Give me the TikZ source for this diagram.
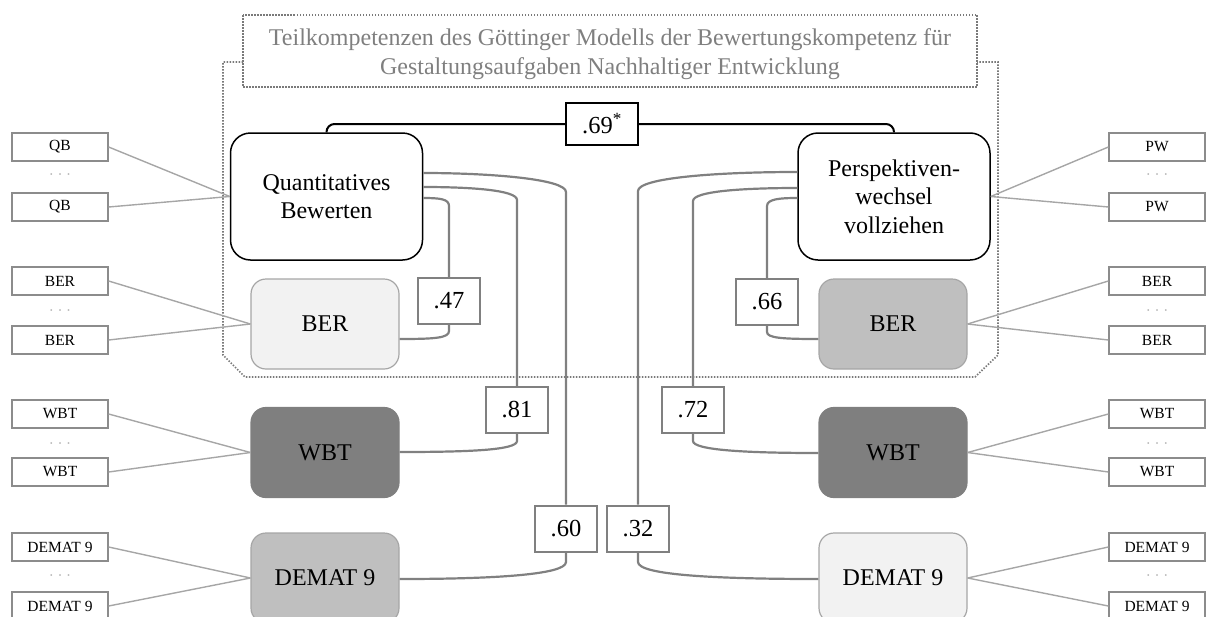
\documentclass[tikz,border=0pt]{standalone}
\usepackage{fontspec}
\setmainfont{Liberation Serif}
\definecolor{conngray}{HTML}{808080}
\definecolor{labgray}{HTML}{808080}
\definecolor{indgray}{HTML}{8C8C8C}
\definecolor{lgray}{HTML}{A6A6A6}
\definecolor{dotgray}{HTML}{B0B0B0}
\definecolor{regc}{HTML}{7A7A7A}
\definecolor{titlec}{HTML}{7F7F7F}
\definecolor{fillA}{HTML}{F2F2F2}
\definecolor{fillB}{HTML}{BFBFBF}
\definecolor{fillC}{HTML}{7F7F7F}
\definecolor{bordA}{HTML}{A6A6A6}
\begin{document}
\begin{tikzpicture}[x=1pt,y=-1pt,
  latbox/.style={draw=black, line width=1.5pt, fill=white, rounded corners=20pt,
    minimum width=192pt, minimum height=127pt, inner sep=0pt, align=center,
    font=\fontsize{24}{28.5}\selectfont},
  compbox/.style={draw=bordA, line width=1.2pt, rounded corners=15pt,
    minimum width=148pt, minimum height=90pt, inner sep=0pt,
    font=\fontsize{24}{28}\selectfont},
  indbox/.style={draw=indgray, line width=1.3pt, fill=white, minimum width=96pt,
    minimum height=28pt, inner sep=0pt, font=\fontsize{15.5}{18}\selectfont},
  labbox/.style={draw=labgray, line width=2pt, fill=white, minimum width=62pt,
    minimum height=46pt, inner sep=0pt, font=\fontsize{24.5}{28}\selectfont},
  conn/.style={draw=conngray, line width=2.2pt},
  indline/.style={draw=lgray, line width=1.4pt},
  dotrow/.style={text=dotgray, inner sep=0pt, font=\fontsize{15}{18}\selectfont},
  regionline/.style={draw=regc, line width=1.7pt, dash pattern=on 1.5pt off 1.5pt}
]
\useasboundingbox (0,0) rectangle (1206,616);

% region and title
\draw[regionline] (243,15) rectangle (977,87);
\draw[regionline] (243,62) -- (223,62) -- (223,355) -- (245,377) -- (975,377) -- (998,355) -- (998,62) -- (977,62);
\node[text=titlec, align=center, font=\fontsize{24}{28.5}\selectfont] (title) at (610,54)
  {Teilkompetenzen des Göttinger Modells der Bewertungskompetenz für\\Gestaltungsaufgaben Nachhaltiger Entwicklung};

% main boxes
\node[latbox] (QB) at (326.5,196.5) {Quantitatives\\Bewerten};
\node[latbox] (PW) at (894,196.5) {Perspektiven-\\wechsel\\vollziehen};
\node[compbox, fill=fillA] (BERL) at (325,324) {BER};
\node[compbox, fill=fillB] (BERR) at (893,324) {BER};
\node[compbox, fill=fillC, draw=fillC] (WBTL) at (325,452.5) {WBT};
\node[compbox, fill=fillC, draw=fillC] (WBTR) at (893,452.5) {WBT};
\node[compbox, fill=fillB] (DEML) at (325,578) {DEMAT 9};
\node[compbox, fill=fillA] (DEMR) at (893,578) {DEMAT 9};

% indicator boxes left
\node[indbox] (qb1) at (60,147) {QB};
\node[dotrow] (qbd) at (60,177) {· · ·};
\node[indbox] (qb2) at (60,207) {QB};
\node[indbox] (bl1) at (60,281) {BER};
\node[dotrow] (bld) at (60,313) {· · ·};
\node[indbox] (bl2) at (60,340) {BER};
\node[indbox] (wl1) at (60,414) {WBT};
\node[dotrow] (wld) at (60,446) {· · ·};
\node[indbox] (wl2) at (60,472) {WBT};
\node[indbox] (dl1) at (60,547) {DEMAT 9};
\node[dotrow] (dld) at (60,578) {· · ·};
\node[indbox] (dl2) at (60,606) {DEMAT 9};
% indicator boxes right
\node[indbox] (pw1) at (1157,147) {PW};
\node[dotrow] (pwd) at (1157,177) {· · ·};
\node[indbox] (pw2) at (1157,207) {PW};
\node[indbox] (br1) at (1157,281) {BER};
\node[dotrow] (brd) at (1157,313) {· · ·};
\node[indbox] (br2) at (1157,340) {BER};
\node[indbox] (wr1) at (1157,414) {WBT};
\node[dotrow] (wrd) at (1157,446) {· · ·};
\node[indbox] (wr2) at (1157,472) {WBT};
\node[indbox] (dr1) at (1157,547) {DEMAT 9};
\node[dotrow] (drd) at (1157,578) {· · ·};
\node[indbox] (dr2) at (1157,606) {DEMAT 9};

% indicator lines
\foreach \a in {qb1,qb2} \draw[indline] (\a.east) -- (QB.west);
\foreach \a in {bl1,bl2} \draw[indline] (\a.east) -- (BERL.west);
\foreach \a in {wl1,wl2} \draw[indline] (\a.east) -- (WBTL.west);
\foreach \a in {dl1,dl2} \draw[indline] (\a.east) -- (DEML.west);
\foreach \a in {pw1,pw2} \draw[indline] (\a.west) -- (PW.east);
\foreach \a in {br1,br2} \draw[indline] (\a.west) -- (BERR.east);
\foreach \a in {wr1,wr2} \draw[indline] (\a.west) -- (WBTR.east);
\foreach \a in {dr1,dr2} \draw[indline] (\a.west) -- (DEMR.east);

% correlation labels
\node[labbox] (l47) at (449,301) {.47};
\node[labbox] (l81) at (517,410) {.81};
\node[labbox] (l60) at (566,528.5) {.60};
\node[labbox] (l66) at (767,302) {.66};
\node[labbox] (l72) at (693,410) {.72};
\node[labbox] (l32) at (638,528.5) {.32};
\node[labbox, draw=black, minimum width=72pt, minimum height=42pt] (l69) at (602,124) {.69\textsuperscript{*}};

% top black connector
\draw[black, line width=2pt, rounded corners=8pt] (QB.north) |- (l69.west);
\draw[black, line width=2pt, rounded corners=8pt] (l69.east) -| (PW.north);

% left connectors
\draw[conn] (QB.east |- 0,173) .. controls (490,173) and (l60.north |- 0,179) .. (l60.north |- 0,192) -- (l60.north);
\draw[conn] (l60.south) -- (l60.south |- 0,562) .. controls (l60.south |- 0,575) and (490,579) .. (DEML.east |- 0,579);
\draw[conn] (QB.east |- 0,187) .. controls (470,187) and (l81.north |- 0,190) .. (l81.north |- 0,200) -- (l81.north);
\draw[conn] (l81.south) -- (l81.south |- 0,441) .. controls (l81.south |- 0,450) and (470,452) .. (WBTL.east |- 0,452);
\draw[conn] (QB.east |- 0,198) .. controls (440,198) and (l47.north |- 0,199) .. (l47.north |- 0,206) -- (l47.north);
\draw[conn] (l47.south) -- (l47.south |- 0,331) .. controls (l47.south |- 0,338) and (435,339) .. (BERL.east |- 0,339);

% right connectors
\draw[conn] (PW.west |- 0,172) .. controls (715,172) and (l32.north |- 0,178) .. (l32.north |- 0,191) -- (l32.north);
\draw[conn] (l32.south) -- (l32.south |- 0,562) .. controls (l32.south |- 0,575) and (715,579) .. (DEMR.west |- 0,579);
\draw[conn] (PW.west |- 0,188) .. controls (745,188) and (l72.north |- 0,191) .. (l72.north |- 0,201) -- (l72.north);
\draw[conn] (l72.south) -- (l72.south |- 0,441) .. controls (l72.south |- 0,450) and (745,453) .. (WBTR.west |- 0,453);
\draw[conn] (PW.west |- 0,198) .. controls (780,198) and (l66.north |- 0,199) .. (l66.north |- 0,206) -- (l66.north);
\draw[conn] (l66.south) -- (l66.south |- 0,332) .. controls (l66.south |- 0,338) and (782,339) .. (BERR.west |- 0,339);
\end{tikzpicture}
\end{document}
